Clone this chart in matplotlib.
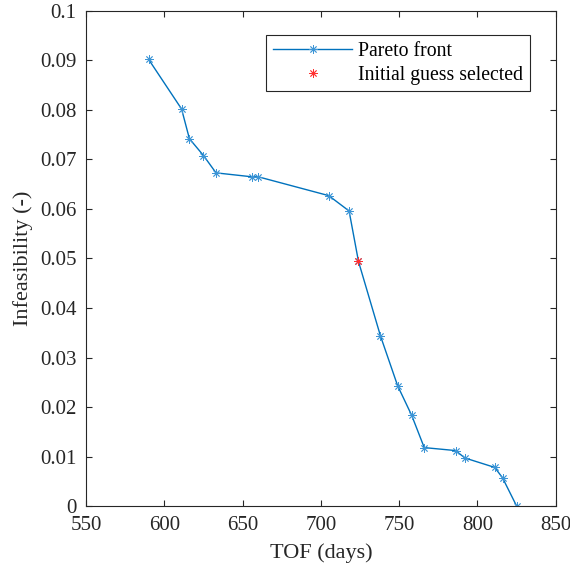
import matplotlib
matplotlib.use('Agg')
from matplotlib import pyplot as plt

# pareto front
tof = [590, 611, 616, 625, 633, 656, 660, 705, 718, 724, 738, 749, 758, 766,
       786, 792, 811, 816, 825]
infeas = [0.0902, 0.0802, 0.0742, 0.0708, 0.0673, 0.0665, 0.0665, 0.0627, 0.0596,
          0.0494, 0.0344, 0.0243, 0.0183, 0.0118, 0.0112, 0.0097, 0.0078, 0.0057, 0.0]

# selected initial guess
sel_tof = [724]
sel_infeas = [0.0494]

xticks = [550, 600, 650, 700, 750, 800, 850]
yticks = [0, 0.01, 0.02, 0.03, 0.04, 0.05, 0.06, 0.07, 0.08, 0.09, 0.1]
ytick_labels = ['0', '0.01', '0.02', '0.03', '0.04', '0.05', '0.06', '0.07',
                '0.08', '0.09', '0.1']

plt.rcParams['font.family'] = ['Liberation Serif', 'DejaVu Serif']

fig = plt.figure(figsize=(5.7, 5.69), dpi=100)
ax = fig.add_axes([0.151, 0.1107, 0.824, 0.870])

star = (8, 2, 0)
ax.plot(tof, infeas, '-', color='#0072BD', lw=1.0, marker=star, ms=6,
        mew=0.6, mec='#3d95d6', label='Pareto front')
ax.plot(sel_tof, sel_infeas, linestyle='none', color='#FF0000', marker=star,
        ms=6, mew=0.6, mec='#ff3030', label='Initial guess selected')

ax.set_xlim(550, 850)
ax.set_ylim(0, 0.1)
ax.set_xticks(xticks)
ax.set_yticks(yticks)
ax.set_yticklabels(ytick_labels)
ax.tick_params(direction='in', top=True, right=True, labelsize=15,
               length=4, width=0.8, color='#262626', labelcolor='#262626', pad=7)
for s in ax.spines.values():
    s.set_color('#262626')
    s.set_linewidth(0.8)

ax.set_xlabel('TOF (days)', fontsize=16, color='#262626', labelpad=6)
ax.set_ylabel('Infeasibility (-)', fontsize=16, color='#262626', labelpad=5)

leg = ax.legend(loc='upper right', bbox_to_anchor=(0.945, 0.952), fontsize=14.2,
                fancybox=False, edgecolor='#262626', handlelength=4,
                borderpad=0.35, labelspacing=0.25, handletextpad=0.3,
                borderaxespad=0, framealpha=1)
leg.get_frame().set_linewidth(0.8)

fig.savefig('out.png', dpi=100)
